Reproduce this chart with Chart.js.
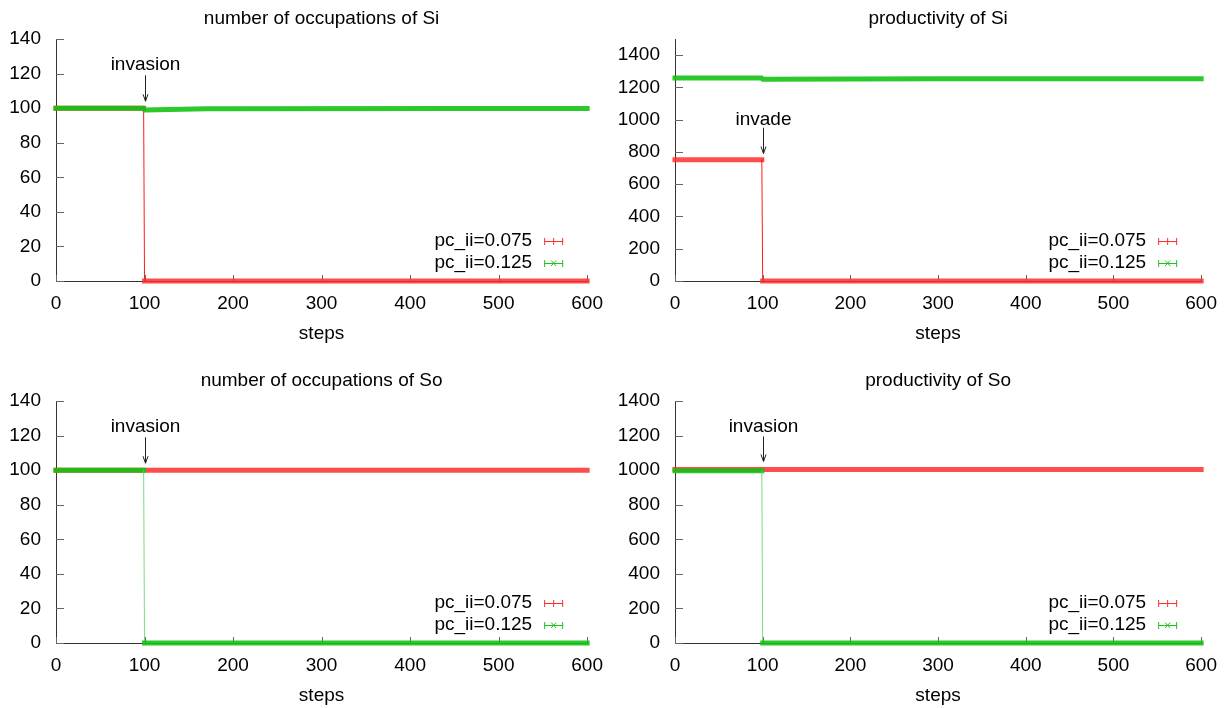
<!DOCTYPE html>
<html>
<head>
<meta charset="utf-8">
<script src="https://cdn.jsdelivr.net/npm/chart.js@4.4.1/dist/chart.umd.min.js"></script>
<style>
  html, body { margin: 0; padding: 0; background: #fff; }
  #wrap { position: relative; width: 1228px; height: 708px; }
  canvas { position: absolute; }
</style>
</head>
<body>
<div id="wrap">
  <canvas id="c0" width="614" height="354" style="left:0;top:0"></canvas>
  <canvas id="c1" width="614" height="354" style="left:614px;top:0"></canvas>
  <canvas id="c2" width="614" height="354" style="left:0;top:354px"></canvas>
  <canvas id="c3" width="614" height="354" style="left:614px;top:354px"></canvas>
</div>
<script>
const FONT = '"Liberation Sans", Arial, sans-serif';
const FS = 19;

// series names
const seriesLabels = ['pc_ii=0.075', 'pc_ii=0.125'];

// number of occupations of Si
const occSiSteps075 = [0, 99, 100, 600];
const occSi075 = [100, 100, 0, 0];
const occSiSteps125 = [0, 99, 100, 170, 450, 600];
const occSi125 = [99.9, 99.9, 98.9, 99.6, 99.8, 99.8];

// productivity of Si
const prodSiSteps075 = [0, 99, 100, 600];
const prodSi075 = [752, 752, 0, 0];
const prodSiSteps125 = [0, 99, 100, 300, 600];
const prodSi125 = [1258, 1258, 1250, 1254, 1254];

// number of occupations of So
const occSoSteps075 = [0, 99, 100, 600];
const occSo075 = [100, 100, 100, 100];
const occSoSteps125 = [0, 99, 100, 600];
const occSo125 = [100, 100, 0, 0];

// productivity of So
const prodSoSteps075 = [0, 99, 100, 600];
const prodSo075 = [1004, 1004, 1004, 1004];
const prodSoSteps125 = [0, 99, 100, 600];
const prodSo125 = [997, 997, 0, 0];

// panel texts and axes
const titles = ['number of occupations of Si', 'productivity of Si', 'number of occupations of So', 'productivity of So'];
const xLabel = 'steps';
const xMax = 600, xStep = 100;
const yMax = [140, 1500, 140, 1400];
const yStep = [20, 200, 20, 200];

// "invasion" notes: label y, arrow tail y, arrow head y (at step 100)
const noteStep = 100;
const noteText = ['invasion', 'invade', 'invasion', 'invasion'];
const noteLabelY = [125, 1000, 125, 1250];
const noteTailY = [119, 950, 119, 1195];
const noteHeadY = [104, 790, 104, 1050];

const panelSteps = [
  [occSiSteps075, occSiSteps125], [prodSiSteps075, prodSiSteps125],
  [occSoSteps075, occSoSteps125], [prodSoSteps075, prodSoSteps125]
];
const panelValues = [
  [occSi075, occSi125], [prodSi075, prodSi125],
  [occSo075, occSo125], [prodSo075, prodSo125]
];

const bandColors = ['rgba(255,45,45,0.85)', 'rgba(20,195,20,0.9)'];
const thinColors = ['rgba(255,0,0,0.9)', 'rgba(90,210,90,0.8)'];
const markColors = ['#ff3030', '#22c022'];

const decor = {
  id: 'decor',
  beforeDatasetsDraw(chart) {
    const { ctx, chartArea: a, scales: { x, y } } = chart;
    ctx.save();
    ctx.strokeStyle = '#666';
    ctx.lineWidth = 1;
    ctx.beginPath();
    x.ticks.forEach(t => {
      const px = Math.round(x.getPixelForValue(t.value)) + 0.5;
      ctx.moveTo(px, a.bottom);
      ctx.lineTo(px, a.bottom - 6);
    });
    y.ticks.forEach(t => {
      const py = Math.round(y.getPixelForValue(t.value)) + 0.5;
      ctx.moveTo(a.left, py);
      ctx.lineTo(a.left + 8, py);
    });
    ctx.stroke();
    ctx.restore();
  },
  afterDraw(chart, args, o) {
    const { ctx, chartArea: a, scales: { x, y } } = chart;
    const cx = (a.left + a.right) / 2;
    ctx.save();
    ctx.fillStyle = '#000';
    ctx.font = FS + 'px ' + FONT;
    ctx.textAlign = 'center';
    ctx.textBaseline = 'middle';
    ctx.fillText(o.title, cx, a.top - 20);
    ctx.fillText(xLabel, cx, a.bottom + 53);

    // note with arrow
    const nx = Math.round(x.getPixelForValue(o.noteStep)) + 0.5;
    ctx.fillText(o.noteText, nx, y.getPixelForValue(o.noteLabelY));
    const ty = y.getPixelForValue(o.noteTailY), hy = y.getPixelForValue(o.noteHeadY);
    ctx.strokeStyle = '#222';
    ctx.lineWidth = 1;
    ctx.beginPath();
    ctx.moveTo(nx, ty); ctx.lineTo(nx, hy);
    ctx.moveTo(nx - 2.5, hy - 7); ctx.lineTo(nx, hy); ctx.lineTo(nx + 2.5, hy - 7);
    ctx.stroke();

    // legend, gnuplot style: text then sample
    chart.data.datasets.forEach((ds, i) => {
      const ly = a.bottom - 40 + i * 22;
      ctx.fillStyle = '#000';
      ctx.textAlign = 'right';
      ctx.fillText(ds.label, a.right - 55, ly);
      const x0 = a.right - 43, x1 = a.right - 24, xm = (x0 + x1) / 2;
      ctx.strokeStyle = markColors[i];
      ctx.beginPath();
      ctx.moveTo(x0, ly + 0.5); ctx.lineTo(x1, ly + 0.5);
      ctx.moveTo(x0 + 0.5, ly - 3); ctx.lineTo(x0 + 0.5, ly + 4);
      ctx.moveTo(x1 - 0.5, ly - 3); ctx.lineTo(x1 - 0.5, ly + 4);
      if (i === 0) {
        ctx.moveTo(xm, ly - 3); ctx.lineTo(xm, ly + 4);
      } else {
        ctx.moveTo(xm - 2.5, ly - 2.5); ctx.lineTo(xm + 2.5, ly + 3);
        ctx.moveTo(xm + 2.5, ly - 2.5); ctx.lineTo(xm - 2.5, ly + 3);
      }
      ctx.stroke();
    });
    ctx.restore();
  }
};

const steep = c => Math.abs(c.p0.y - c.p1.y) > 10;

function makePanel(p) {
  const left = p % 2 === 0;
  const top = p < 2;
  const datasets = [0, 1].map(i => ({
    label: seriesLabels[i],
    data: panelSteps[p][i].map((s, k) => ({ x: s, y: panelValues[p][i][k] })),
    borderColor: bandColors[i],
    borderWidth: 5,
    borderCapStyle: 'square',
    borderJoinStyle: 'round',
    pointRadius: 0,
    clip: 10,
    order: i === 1 ? 0 : 1,
    segment: {
      borderWidth: c => steep(c) ? 1 : 5,
      borderColor: c => steep(c) ? thinColors[i] : bandColors[i]
    }
  }));
  new Chart(document.getElementById('c' + p), {
    type: 'line',
    data: { datasets },
    options: {
      responsive: false,
      animation: false,
      devicePixelRatio: 1,
      layout: { padding: { top: top ? 39 : 47, right: left ? 25 : 20, left: 0, bottom: 0 } },
      plugins: {
        legend: { display: false },
        tooltip: { enabled: false },
        decor: {
          title: titles[p], noteStep, noteText: noteText[p],
          noteLabelY: noteLabelY[p], noteTailY: noteTailY[p], noteHeadY: noteHeadY[p]
        }
      },
      scales: {
        x: {
          type: 'linear', min: 0, max: xMax,
          ticks: { stepSize: xStep, color: '#000', font: { family: FONT, size: FS }, padding: 11, maxRotation: 0,
                   callback: v => String(v) },
          grid: { display: false, drawTicks: false, tickLength: 0 },
          border: { display: true, color: '#333', width: 1 },
          afterFit: s => { s.height = top ? 73 : 65; }
        },
        y: {
          min: 0, max: yMax[p],
          ticks: { stepSize: yStep[p], includeBounds: false, color: '#000', font: { family: FONT, size: FS }, padding: 15,
                   callback: v => String(v) },
          grid: { display: false, drawTicks: false, tickLength: 0 },
          border: { display: true, color: '#333', width: 1 },
          afterFit: s => { s.width = left ? 56 : 61; }
        }
      }
    },
    plugins: [decor]
  });
}

[0, 1, 2, 3].forEach(makePanel);
</script>
</body>
</html>
